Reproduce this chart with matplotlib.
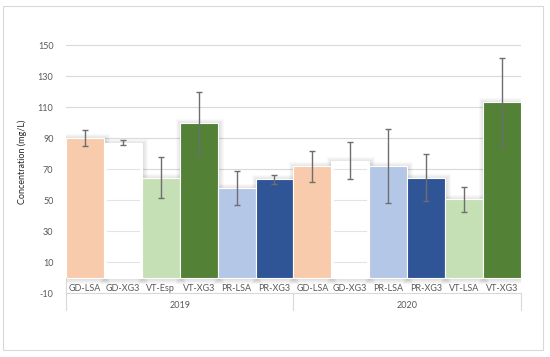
import matplotlib
matplotlib.use("Agg")
import matplotlib.pyplot as plt
from matplotlib.patches import Rectangle
from matplotlib.lines import Line2D

plt.rcParams['font.family'] = ['Lato', 'DejaVu Sans']

years = ["2019", "2020"]
labels_2019 = ["GD-LSA", "GD-XG3", "VT-Esp", "VT-XG3", "PR-LSA", "PR-XG3"]
labels_2020 = ["GD-LSA", "GD-XG3", "PR-LSA", "PR-XG3", "VT-LSA", "VT-XG3"]
values_2019 = [90, 87, 64.5, 100, 58, 63.5]
values_2020 = [72, 75.5, 72, 64.5, 50.5, 113]
errors_2019 = [5, 1.6, 13, 20, 11, 3]
errors_2020 = [10, 12, 24, 15, 8, 29]
colors_2019 = ["#F8CBAD", "#FFFFFF", "#C5E0B4", "#538135", "#B4C7E7", "#2F5597"]
colors_2020 = ["#F8CBAD", "#FFFFFF", "#B4C7E7", "#2F5597", "#C5E0B4", "#538135"]
yticks = [-10, 10, 30, 50, 70, 90, 110, 130, 150]

labels = labels_2019 + labels_2020
values = values_2019 + values_2020
errors = errors_2019 + errors_2020
colors = colors_2019 + colors_2020

fig = plt.figure(figsize=(5.5, 3.57), dpi=100)
ax = fig.add_axes([0.12, 0.179, 0.827, 0.738])

# outer chart border
fig.patches.append(Rectangle((0.0055, 0.0196), 0.9815, 0.9634, transform=fig.transFigure,
                             fill=False, edgecolor="#D9D9D9", linewidth=0.8))

n = len(values)
x = list(range(n))
ax.set_xlim(-0.5, n - 0.5)
ax.set_ylim(-10, 160)

# pixel -> data conversions
px_x = n / 455.0
px_y = 170 / 263.5

for t in yticks[1:]:
    ax.axhline(t, color="#D9D9D9", linewidth=0.8, zorder=0)

bars = ax.bar(x, values, width=1.0, color=colors, edgecolor="#FFFFFF", linewidth=0.8, zorder=2)

# soft glow shadow behind bars
for xi, v in zip(x, values):
    for k in range(1, 6):
        ax.add_patch(Rectangle((xi - 0.5 - k * px_x + 1.0 * px_x, -k * px_y - 1.0 * px_y),
                               1.0 + 2 * k * px_x, v + 2 * k * px_y,
                               facecolor="#000000", alpha=0.022, linewidth=0, zorder=1.5))

# gridlines visible through the white bars
for xi, v, c in zip(x, values, colors):
    if c.upper() == "#FFFFFF":
        for t in yticks[1:]:
            if t < v:
                ax.plot([xi - 0.42, xi + 0.42], [t, t], color="#E3E3E3", linewidth=0.8, zorder=2.5)

ax.errorbar(x, values, yerr=errors, fmt="none", ecolor="#6E6E6E", elinewidth=1.0,
            capsize=2, capthick=1.0, zorder=3)

for s in ax.spines.values():
    s.set_visible(False)
ax.set_xticks([])
ax.set_yticks(yticks)
ax.set_yticklabels([str(t) for t in yticks], fontsize=6.5, color="#595959")
ax.tick_params(axis="y", length=0, pad=9)

# separator line at -10
ax.axhline(-10, color="#D9D9D9", linewidth=0.8, zorder=1, clip_on=False)

# category labels
for xi, lab in zip(x, labels):
    ax.text(xi, -7, lab, ha="center", va="center", fontsize=6.5, color="#595959")

# year labels and group separators
trans = ax.get_xaxis_transform()
ax.text(2.5, -0.048, years[0], transform=trans, ha="center", va="center", fontsize=6.5, color="#595959")
ax.text(8.5, -0.048, years[1], transform=trans, ha="center", va="center", fontsize=6.5, color="#595959")
for xs, top in [(-0.5, 0.059), (5.5, 0.0), (11.5, 0.0)]:
    ax.add_line(Line2D([xs, xs], [-0.065, top], transform=trans, color="#D9D9D9",
                       linewidth=0.8, clip_on=False))

ax.set_ylabel("Concentration (mg/L)", fontsize=6.5, color="#262626", labelpad=8)

fig.savefig("out.png", dpi=100)
